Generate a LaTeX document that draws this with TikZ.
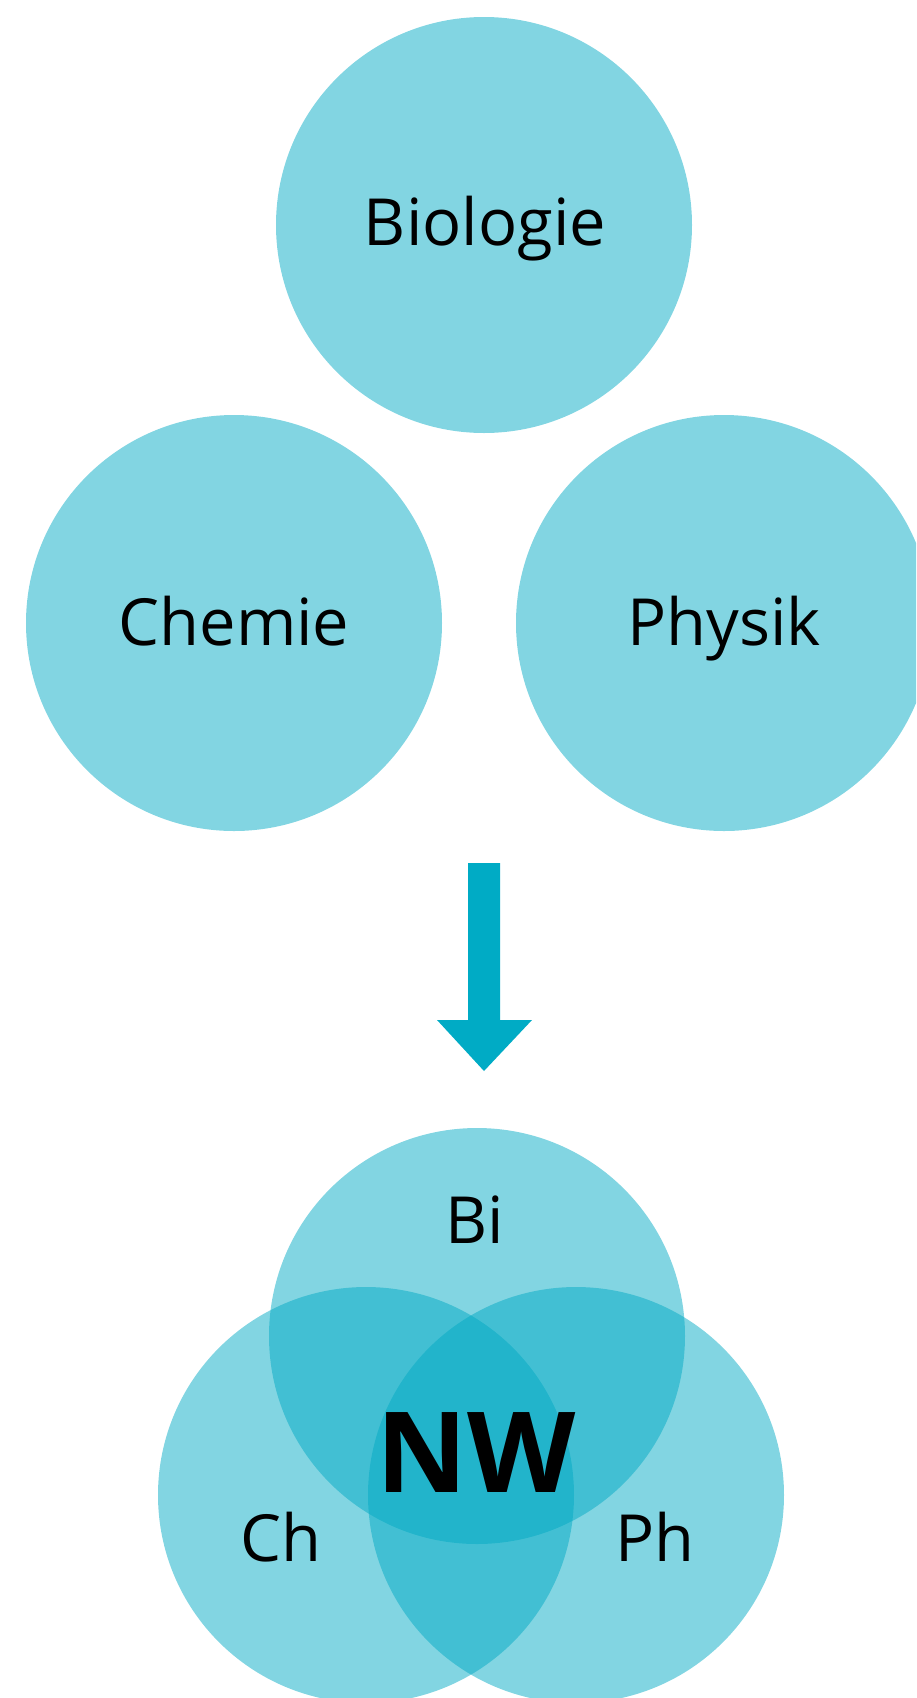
\documentclass[tikz,border=0pt]{standalone}
\usepackage{fontspec}
\setmainfont{Open Sans}
\definecolor{nwblue}{HTML}{00A9C3}
\definecolor{arrowblue}{HTML}{00ABC5}
\begin{document}
\begin{tikzpicture}[x=1pt,y=-1pt,
  bubble/.style={circle,minimum size=416pt,inner sep=0pt,fill=nwblue,fill opacity=0.49,draw=none},
  lbl/.style={anchor=base,font=\fontsize{65}{78}\selectfont,text=black,inner sep=0pt},
  biglbl/.style={anchor=base,font=\fontsize{112}{130}\selectfont\bfseries,text=black,inner sep=0pt}]
\useasboundingbox (0,0) rectangle (916,1698);
\clip (0,0) rectangle (916,1698);
% top circles
\node[bubble] (bio) at (484,225) {};
\node[bubble] (che) at (234,623) {};
\node[bubble] (phy) at (724,623) {};
\node[lbl] (tbio) at (485,245) {Biologie};
\node[lbl] (tche) at (234,645) {Chemie};
\node[lbl] (tphy) at (724,645) {Physik};
% arrow
\coordinate (atop) at (484,863);
\coordinate (atip) at (484,1071);
\fill[arrowblue] (468,863) -- (500,863) -- (500,1020) -- (532,1020) -- (atip) -- (437,1020) -- (468,1020) -- cycle;
% venn
\node[bubble] (vbi) at (477,1336) {};
\node[bubble] (vch) at (366,1495) {};
\node[bubble] (vph) at (576,1495) {};
\node[lbl] (tbi) at (475,1243) {Bi};
\node[lbl] (tch) at (281,1561) {Ch};
\node[lbl] (tph) at (655,1561) {Ph};
\node[biglbl] (tnw) at (476,1492) {NW};
\end{tikzpicture}
\end{document}
